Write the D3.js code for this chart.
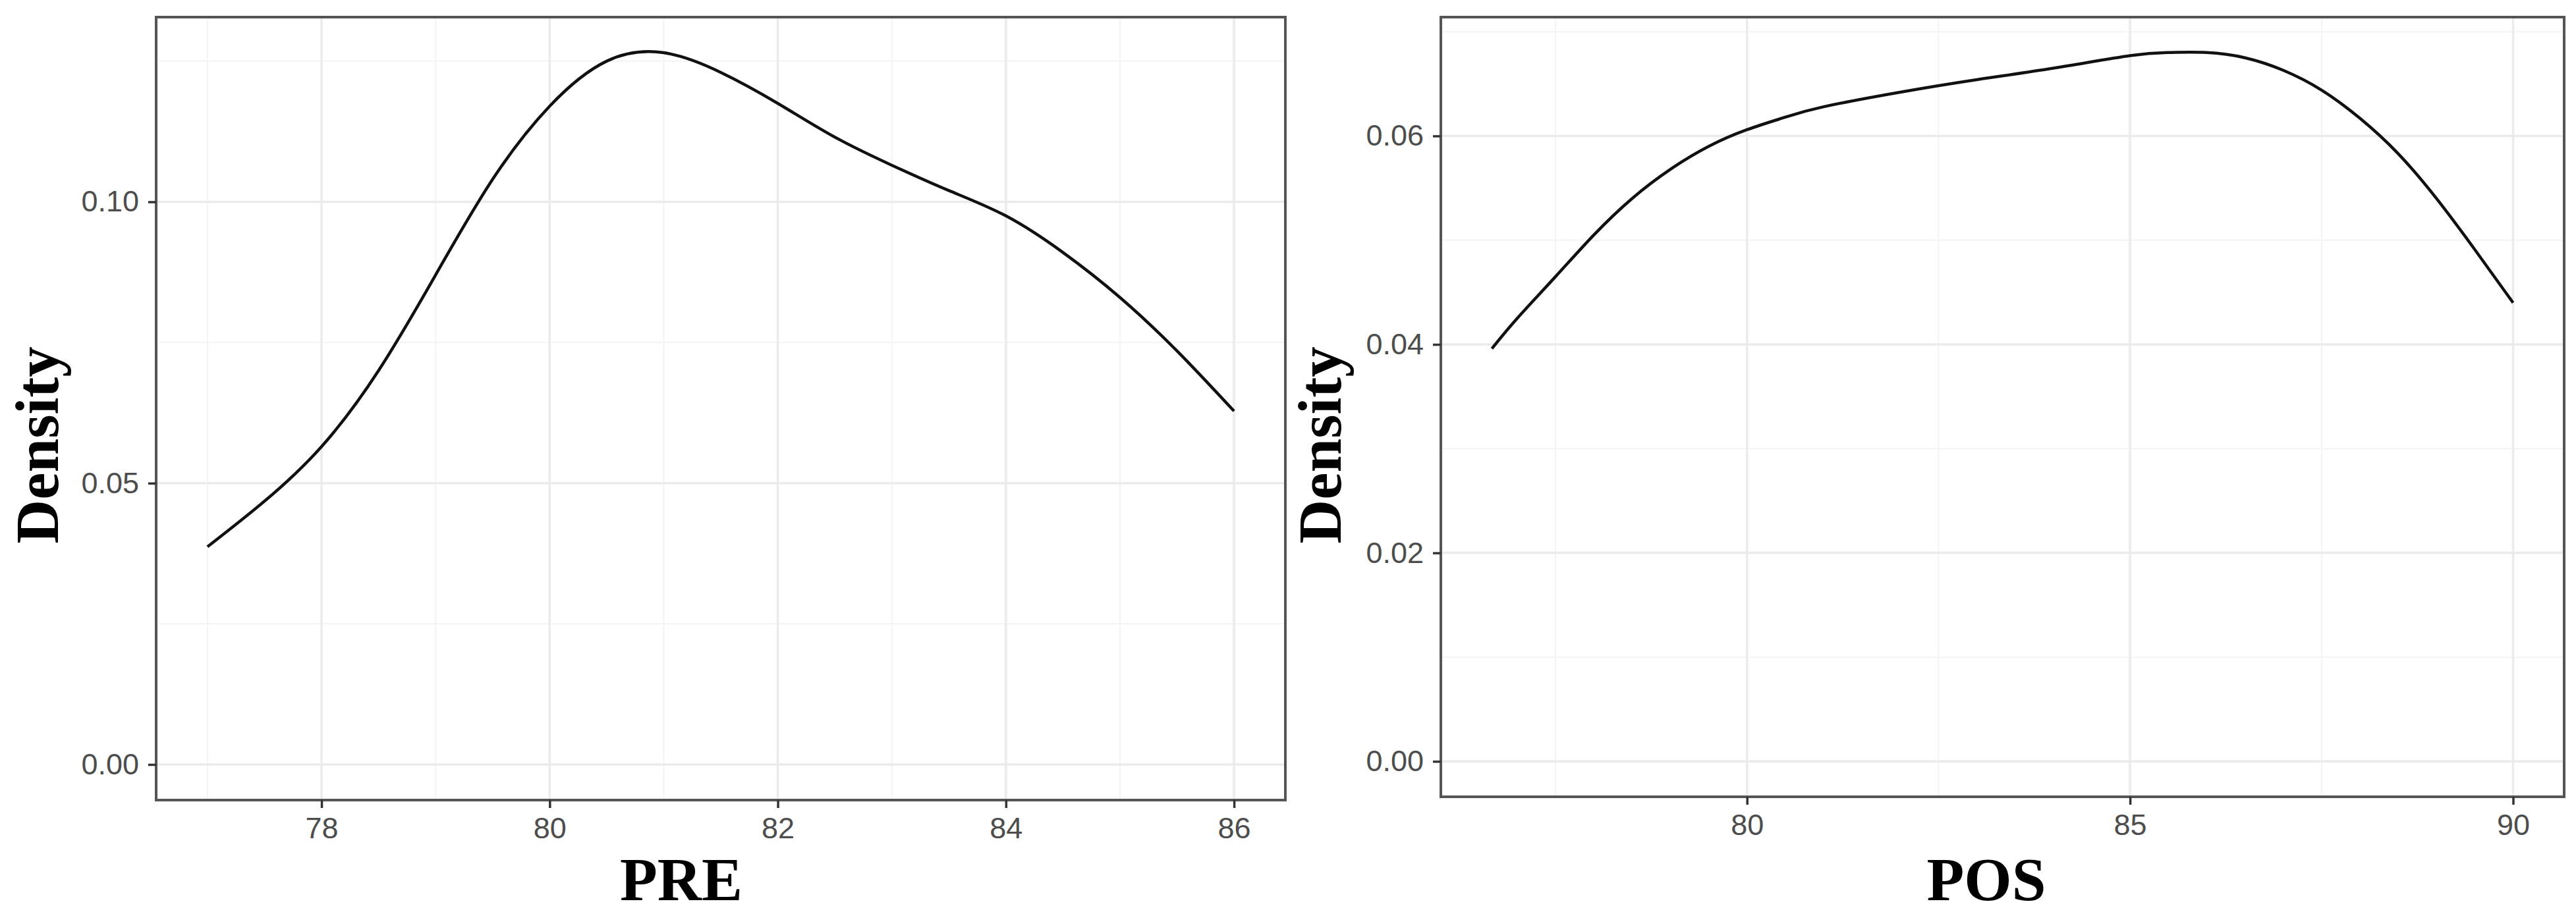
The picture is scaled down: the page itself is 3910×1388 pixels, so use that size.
<!DOCTYPE html>
<html>
<head>
<meta charset="utf-8">
<script src="https://cdn.jsdelivr.net/npm/d3@7"></script>
<style>
  html, body { margin: 0; padding: 0; background: #ffffff; }
  svg { display: block; }
</style>
</head>
<body>
<script>
// ---- Data ----
const preX = [77.0, 77.5, 78.0, 78.5, 79.0, 79.5, 80.0, 80.5, 81.0, 81.5, 82.0, 82.5, 83.0, 83.5, 84.0, 84.5, 85.0, 85.5, 86.0];
const preY = [0.0387, 0.0468, 0.0565, 0.0700, 0.0870, 0.1040, 0.1170, 0.1250, 0.1265, 0.1230, 0.1175, 0.1115, 0.1065, 0.1020, 0.0975, 0.0910, 0.0830, 0.0735, 0.0628];

const posX = [76.67, 77.0, 77.5, 78.0, 78.5, 79.0, 79.5, 80.0, 80.5, 81.0, 82.0, 83.0, 84.0, 85.0, 85.5, 86.0, 86.5, 87.0, 87.5, 88.0, 88.5, 89.0, 89.5, 90.0];
const posY = [0.0396, 0.0425, 0.0465, 0.0505, 0.0540, 0.0568, 0.0590, 0.0606, 0.0618, 0.0628, 0.0642, 0.0654, 0.0665, 0.0677, 0.0680, 0.0680, 0.0675, 0.0663, 0.0644, 0.0617, 0.0583, 0.0540, 0.0491, 0.0440];

const preXTicks = [78, 80, 82, 84, 86];
const preXMinor = [77, 79, 81, 83, 85];
const preYTicks = [0.00, 0.05, 0.10];
const preYMinor = [0.025, 0.075, 0.125];

const posXTicks = [80, 85, 90];
const posXMinor = [77.5, 82.5, 87.5];
const posYTicks = [0.00, 0.02, 0.04, 0.06];
const posYMinor = [0.01, 0.03, 0.05, 0.07];

const xTitles = ["PRE", "POS"];
const yTitle = "Density";

// ---- Layout ----
const W = 3910, H = 1388;
const svg = d3.select("body").append("svg").attr("width", W).attr("height", H);
svg.append("rect").attr("width", W).attr("height", H).attr("fill", "#ffffff");

const panels = [
  { xs: preX, ys: preY, xt: preXTicks, xm: preXMinor, yt: preYTicks, ym: preYMinor,
    left: 237, right: 1951, top: 26, bottom: 1215, title: xTitles[0], titleX: 1034, yTitleX: 88 },
  { xs: posX, ys: posY, xt: posXTicks, xm: posXMinor, yt: posYTicks, ym: posYMinor,
    left: 2187, right: 3892, top: 26, bottom: 1210, title: xTitles[1], titleX: 3015, yTitleX: 2035 }
];

const fmtY = d3.format(".2f");

panels.forEach((p, i) => {
  const xmin = d3.min(p.xs), xmax = d3.max(p.xs);
  const xr = xmax - xmin;
  const ymax = d3.max(p.ys);
  const x = d3.scaleLinear().domain([xmin - 0.05 * xr, xmax + 0.05 * xr]).range([p.left, p.right]);
  const y = d3.scaleLinear().domain([-0.05 * ymax, ymax * 1.05]).range([p.bottom, p.top]);

  const g = svg.append("g");

  // minor grid
  g.selectAll(null).data(p.xm).enter().append("line")
    .attr("x1", d => x(d)).attr("x2", d => x(d)).attr("y1", p.top).attr("y2", p.bottom)
    .attr("stroke", "#f4f4f4").attr("stroke-width", 2);
  g.selectAll(null).data(p.ym).enter().append("line")
    .attr("y1", d => y(d)).attr("y2", d => y(d)).attr("x1", p.left).attr("x2", p.right)
    .attr("stroke", "#f4f4f4").attr("stroke-width", 2);
  // major grid
  g.selectAll(null).data(p.xt).enter().append("line")
    .attr("x1", d => x(d)).attr("x2", d => x(d)).attr("y1", p.top).attr("y2", p.bottom)
    .attr("stroke", "#ebebeb").attr("stroke-width", 3.5);
  g.selectAll(null).data(p.yt).enter().append("line")
    .attr("y1", d => y(d)).attr("y2", d => y(d)).attr("x1", p.left).attr("x2", p.right)
    .attr("stroke", "#ebebeb").attr("stroke-width", 3.5);

  // density curve
  const line = d3.line().x(d => x(d[0])).y(d => y(d[1])).curve(d3.curveNatural);
  g.append("path").datum(d3.zip(p.xs, p.ys)).attr("d", line)
    .attr("fill", "none").attr("stroke", "#111111").attr("stroke-width", 4.5);

  // axes (ticks + labels)
  const xAxis = d3.axisBottom(x).tickValues(p.xt).tickSize(12).tickPadding(14).tickFormat(d3.format("d"));
  const ax = svg.append("g").attr("transform", `translate(0,${p.bottom})`).call(xAxis);
  ax.select(".domain").remove();
  ax.selectAll(".tick line").attr("stroke", "#333333").attr("stroke-width", 3.5);
  ax.selectAll(".tick text").attr("fill", "#4d4d4d").style("font-family", "'Liberation Sans', Arial, sans-serif").style("font-size", "45px");

  const yAxis = d3.axisLeft(y).tickValues(p.yt).tickSize(12).tickPadding(14).tickFormat(fmtY);
  const ay = svg.append("g").attr("transform", `translate(${p.left},0)`).call(yAxis);
  ay.select(".domain").remove();
  ay.selectAll(".tick line").attr("stroke", "#333333").attr("stroke-width", 3.5);
  ay.selectAll(".tick text").attr("fill", "#4d4d4d").style("font-family", "'Liberation Sans', Arial, sans-serif").style("font-size", "45px");

  // panel border
  g.append("rect").attr("x", p.left).attr("y", p.top).attr("width", p.right - p.left).attr("height", p.bottom - p.top)
    .attr("fill", "none").attr("stroke", "#555555").attr("stroke-width", 4);

  // titles
  svg.append("text").attr("x", p.titleX).attr("y", 1367).attr("text-anchor", "middle")
    .style("font-family", "'Liberation Serif', 'Times New Roman', serif").style("font-weight", "bold")
    .style("font-size", "93px").attr("fill", "#000").text(p.title);
  svg.append("text").attr("transform", `translate(${p.yTitleX},676) rotate(-90)`).attr("text-anchor", "middle")
    .style("font-family", "'Liberation Serif', 'Times New Roman', serif").style("font-weight", "bold")
    .style("font-size", "93px").attr("fill", "#000").text(yTitle);
});
</script>
</body>
</html>
